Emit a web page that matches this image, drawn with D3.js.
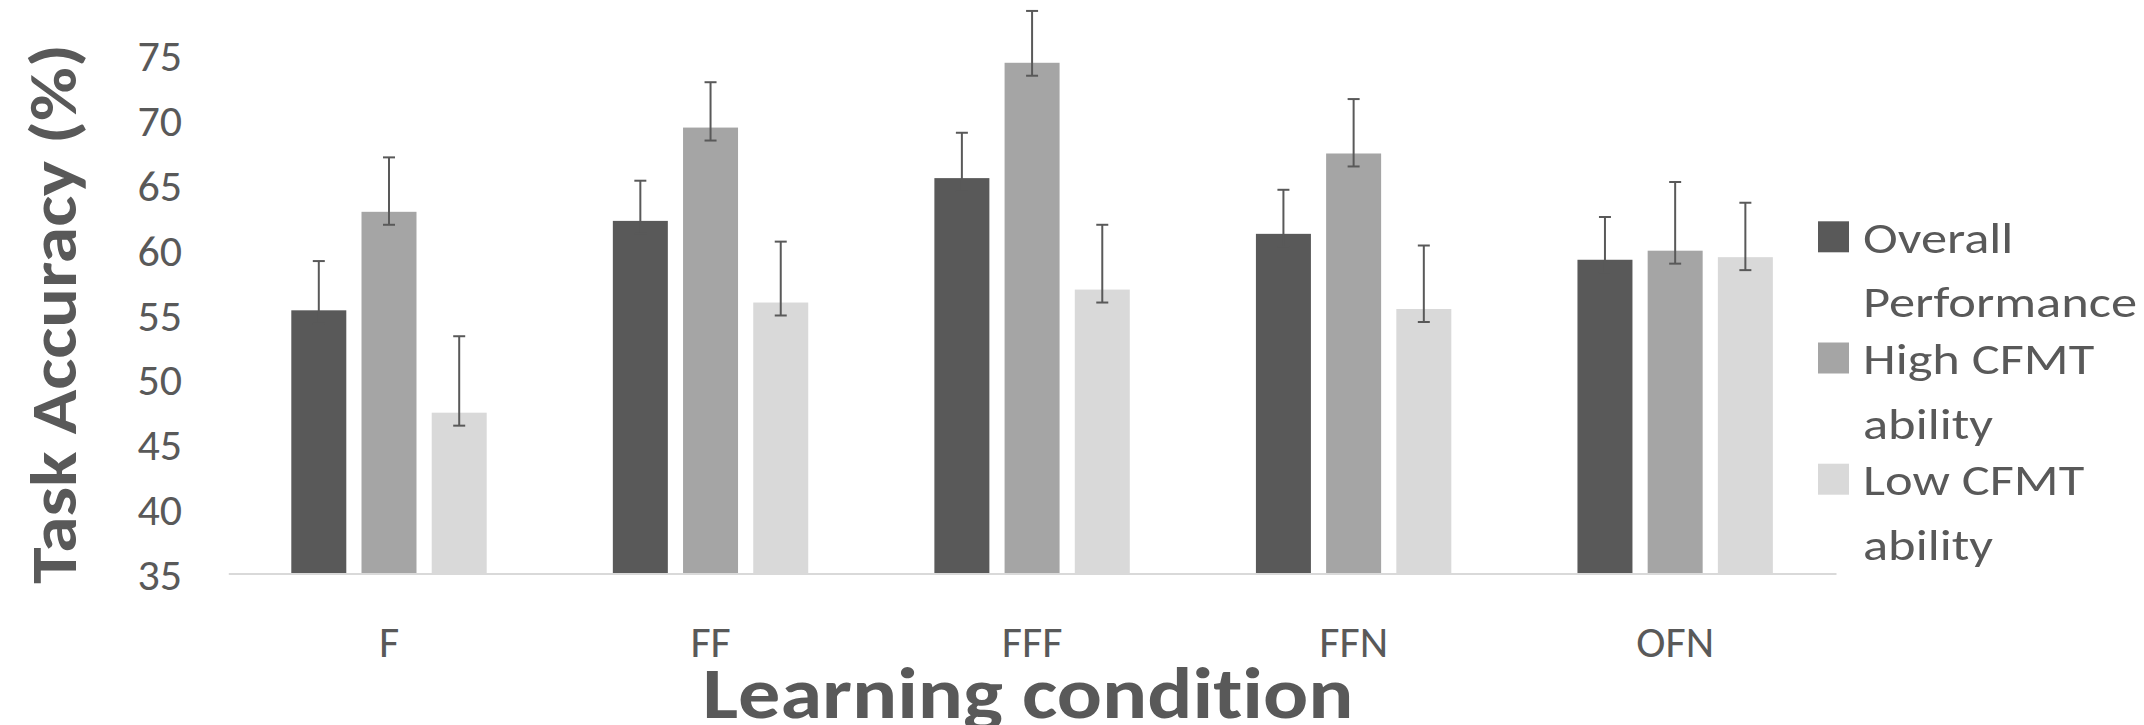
<!DOCTYPE html>
<html>
<head>
<meta charset="utf-8">
<script src="https://cdn.jsdelivr.net/npm/d3@7"></script>
<style>
  html, body { margin: 0; padding: 0; background: #ffffff; }
  svg { display: block; }
  text { font-family: Carlito, Calibri, Lato, "Open Sans", sans-serif; fill: #595959;
         font-variant-ligatures: none; font-feature-settings: "liga" 0, "clig" 0; }
</style>
</head>
<body>
<svg id="chart" width="2144" height="725"></svg>
<script>
// ---- data ----
const categories = ["F", "FF", "FFF", "FFN", "OFN"];
const seriesNames = ["Overall Performance", "High CFMT ability", "Low CFMT ability"];
const overall = [55.3, 62.2, 65.5, 61.2, 59.2];
const highCFMT = [62.9, 69.4, 74.4, 67.4, 59.9];
const lowCFMT = [47.4, 55.9, 56.9, 55.4, 59.4];
const overallErrPlus = [3.8, 3.1, 3.5, 3.4, 3.3];
const highErrPlus = [4.2, 3.5, 4.0, 4.2, 5.3];
const lowErrPlus = [5.9, 4.7, 5.0, 4.9, 4.2];
const overallErrMinus = [1.0, 1.0, 1.0, 1.0, 1.0];
const highErrMinus = [1.0, 1.0, 1.0, 1.0, 1.0];
const lowErrMinus = [1.0, 1.0, 1.0, 1.0, 1.0];
const yTicks = [35, 40, 45, 50, 55, 60, 65, 70, 75];
const legendLines = [["Overall", "Performance"], ["High CFMT", "ability"], ["Low CFMT", "ability"]];
const colors = ["#595959", "#a5a5a5", "#d9d9d9"];

const seriesValues = [overall, highCFMT, lowCFMT];
const seriesPlus = [overallErrPlus, highErrPlus, lowErrPlus];
const seriesMinus = [overallErrMinus, highErrMinus, lowErrMinus];

const rows = [];
categories.forEach((c, i) => {
  seriesNames.forEach((s, j) => {
    rows.push({cat: c, series: s, j: j, value: seriesValues[j][i], plus: seriesPlus[j][i], minus: seriesMinus[j][i]});
  });
});

const svg = d3.select("#chart");
svg.append("rect").attr("width", 2144).attr("height", 725).attr("fill", "#ffffff");

const x = d3.scaleBand().domain(categories).range([228.3, 1836]).paddingInner(0).paddingOuter(0);
const xs = d3.scaleBand().domain(seriesNames).range([63, 63 + 195.4]).paddingInner(0.2165).paddingOuter(0);
const y = d3.scaleLinear().domain([35, 75]).range([573.4, 55.0]);

const FONT = "Carlito, Calibri, Lato, 'Open Sans', sans-serif";

// horizontal stretch helper (keeps text as text)
function stretch(sel, factor) {
  sel.each(function () {
    const w = this.getComputedTextLength();
    d3.select(this).attr("textLength", w * factor).attr("lengthAdjust", "spacingAndGlyphs");
  });
}

// y axis
const yAxis = svg.append("g").attr("transform", "translate(182,0)")
  .call(d3.axisLeft(y).tickValues(yTicks).tickSize(0).tickPadding(0).tickFormat(d3.format("d")));
yAxis.select(".domain").remove();
yAxis.selectAll("text").attr("font-size", 44).attr("fill", "#595959")
  .style("font-family", FONT).attr("dy", "0.36em");

// bars
svg.append("g").selectAll("rect").data(rows).join("rect")
  .attr("x", d => x(d.cat) + xs(d.series))
  .attr("width", xs.bandwidth())
  .attr("y", d => y(d.value))
  .attr("height", d => y(35) - y(d.value))
  .attr("fill", d => colors[d.j]);

// x axis
const xAxis = svg.append("g").attr("transform", `translate(0,${y(35)})`)
  .call(d3.axisBottom(x).tickSize(0).tickPadding(0));
xAxis.select(".domain").attr("stroke", "#d9d9d9").attr("stroke-width", 2);
xAxis.selectAll("text").attr("font-size", 44).attr("fill", "#595959")
  .style("font-family", FONT).attr("dy", null).attr("y", 657 - 573.4);

// error bars
const eb = svg.append("g").attr("stroke", "#595959").attr("stroke-width", 2);
rows.forEach(d => {
  const cx = x(d.cat) + xs(d.series) + xs.bandwidth() / 2;
  const yTop = y(d.value + d.plus), yBot = y(d.value - d.minus);
  eb.append("line").attr("x1", cx).attr("x2", cx).attr("y1", yTop).attr("y2", yBot);
  eb.append("line").attr("x1", cx - 6).attr("x2", cx + 6).attr("y1", yTop).attr("y2", yTop);
  eb.append("line").attr("x1", cx - 6).attr("x2", cx + 6).attr("y1", yBot).attr("y2", yBot);
});

// axis titles
const yTitle = svg.append("text").attr("transform", "translate(76,314) rotate(-90)")
  .attr("text-anchor", "middle").attr("font-weight", "bold").attr("font-size", 64)
  .text("Task Accuracy (%)");
{
  const w = yTitle.node().getComputedTextLength();
  stretch(yTitle, 540 / w);
}
const xTitle = svg.append("text").attr("x", 1028).attr("y", 718)
  .attr("text-anchor", "middle").attr("font-weight", "bold").attr("font-size", 72)
  .text("Learning condition");
{
  const w = xTitle.node().getComputedTextLength();
  stretch(xTitle, 651 / w);
}

// legend
const lg = svg.append("g");
const legendTexts = [];
legendLines.forEach((lines, i) => {
  const base = 252.8 + i * 121.2;
  lg.append("rect").attr("x", 1818).attr("y", base - 31.5).attr("width", 31).attr("height", 31).attr("fill", colors[i]);
  lines.forEach((t, k) => {
    legendTexts.push(lg.append("text").attr("x", 1863).attr("y", base + k * 64.5).attr("font-size", 44).text(t));
  });
});
{
  const perf = legendTexts[1].node().getComputedTextLength();
  const f = 274 / perf;
  legendTexts.forEach(t => stretch(t, f));
}
</script>
</body>
</html>
